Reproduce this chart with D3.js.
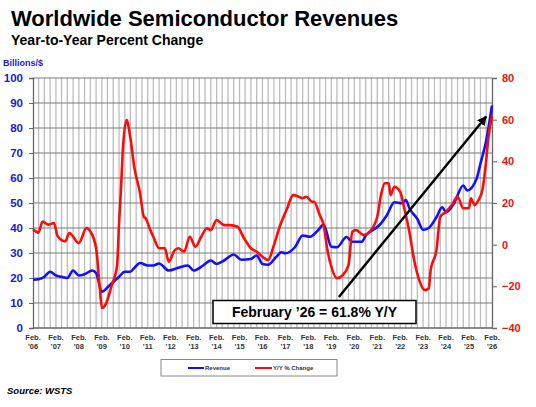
<!DOCTYPE html>
<html>
<head>
<meta charset="utf-8">
<script src="https://cdn.jsdelivr.net/npm/d3@7"></script>
<style>
  body { margin: 0; background: #fff; }
  text { font-family: "Liberation Sans", Arial, Helvetica, sans-serif; font-weight: bold; }
</style>
</head>
<body>
<svg id="chart" width="536" height="407"></svg>
<script>
// revenue, billions of $ (left axis)
var revDates = ["2006-02","2006-05","2006-08","2006-11","2007-02","2007-05","2007-08","2007-11",
  "2008-02","2008-05","2008-09","2008-11","2009-02","2009-06","2009-11","2010-02","2010-05","2010-07",
  "2010-10","2011-02","2011-05","2011-08","2012-01","2012-06","2012-11","2013-02","2013-07","2013-11",
  "2014-02","2014-06","2014-11","2015-03","2015-08","2015-11","2016-02","2016-05","2016-09","2016-12",
  "2017-02","2017-07","2017-11","2018-03","2018-07","2018-10","2019-02","2019-05","2019-10","2020-01",
  "2020-06","2020-08","2020-12","2021-03","2021-07","2021-11","2022-03","2022-05","2022-07","2022-11",
  "2023-02","2023-05","2023-09","2023-12","2024-02","2024-06","2024-11","2025-01","2025-06","2025-08",
  "2025-11","2026-02"];
var revValues = [19.3,19.5,20.5,22.5,21,20.5,20,23,
  21,21.5,23,22,14.5,17,20.5,22.5,22.5,24,
  26,25,25,25.8,23,24.1,25,23,25,27,
  25.6,27,29.4,27.3,27.6,29,25.6,25.3,28.3,30.3,
  29.9,32.3,37,36.5,39,41.4,32.5,32.3,36.4,34.5,
  34.5,37,39.3,41,45,50.3,49.9,51.2,47.7,43.6,
  39.3,40,44.3,48.3,46.3,49.6,57,55,59.7,65.7,
  75,89];

// year-to-year % change (right axis)
var yoyDates = ["2006-02","2006-05","2006-07","2006-10","2007-01","2007-03","2007-07","2007-09",
  "2008-02","2008-06","2008-08","2008-11","2009-01","2009-02","2009-04","2009-07","2009-10","2009-11",
  "2009-12","2010-01","2010-03","2010-05","2010-07","2010-10","2010-12","2011-01","2011-03","2011-05",
  "2011-08","2011-11","2012-01","2012-02","2012-04","2012-06","2012-09","2012-12","2013-03","2013-06",
  "2013-09","2013-11","2014-02","2014-06","2014-09","2015-01","2015-04","2015-08","2015-11","2016-02",
  "2016-05","2016-08","2016-11","2017-03","2017-06","2017-09","2017-11","2018-01","2018-04","2018-05",
  "2018-08","2018-10","2018-12","2019-02","2019-05","2019-08","2019-11","2020-01","2020-03","2020-07",
  "2020-10","2021-02","2021-04","2021-06","2021-08","2021-09","2021-11","2022-02","2022-04","2022-07",
  "2022-09","2022-12","2023-03","2023-05","2023-06","2023-09","2023-11","2024-02","2024-05","2024-08",
  "2024-11","2025-02","2025-03","2025-05","2025-07","2025-09","2025-11","2025-12","2026-02"];
var yoyValues = [7.4,5.8,11.1,9.6,10.4,4.0,1.6,5.6,
  0.8,8,6.4,-1.6,-21.6,-30.4,-28.8,-20.2,-10,10,
  26,45.4,59.8,51.2,37.4,24.8,13.4,12.6,8,3.8,
  -1.7,-1.7,-8.2,-6.9,-2.8,-1.7,-3.4,3.8,-1,3.8,
  7.9,7,11.8,9.4,9.4,8.6,3.8,-1.7,-3.4,-5.8,
  -7.4,-0.2,8.6,17.5,23.8,23,22.3,23,20.6,20.6,
  14.2,9.4,-2.6,-10.6,-16.1,-14.6,-9.8,6.2,7,4.6,
  6.2,13.4,23.8,29.5,29.5,23.8,27.8,25.4,18.2,5.5,
  -5.8,-17,-21.8,-20.9,-12.2,-2.6,13.4,15.8,19,23,
  17.5,17.5,22.3,19,21.4,26.2,40.6,50.2,61.8];

var leftTicks = [0,10,20,30,40,50,60,70,80,90,100];
var rightTicks = [-40,-20,0,20,40,60,80];
var yearLabels = ["'06","'07","'08","'09","'10","'11","'12","'13","'14","'15","'16",
  "'17","'18","'19","'20","'21","'22","'23","'24","'25","'26"];

var parse = d3.timeParse("%Y-%m");
var rev = revDates.map(function (d, i) { return { date: parse(d), value: revValues[i] }; });
var yoy = yoyDates.map(function (d, i) { return { date: parse(d), value: yoyValues[i] }; });

var svg = d3.select("#chart");
var plot = { left: 33, right: 492, top: 78, bottom: 328 };

var x = d3.scaleTime()
  .domain([parse("2006-02"), parse("2026-02")])
  .range([plot.left, plot.right]);
var yL = d3.scaleLinear().domain([0, 100]).range([plot.bottom, plot.top]);
var yR = d3.scaleLinear().domain([-40, 80]).range([plot.bottom, plot.top]);

// titles
svg.append("text").attr("x", 11).attr("y", 26).attr("font-size", 22).attr("fill", "#000")
  .text("Worldwide Semiconductor Revenues");
svg.append("text").attr("x", 11).attr("y", 45).attr("font-size", 14).attr("fill", "#000")
  .text("Year-to-Year Percent Change");
svg.append("text").attr("x", 3).attr("y", 65.5).attr("font-size", 9).attr("fill", "#1a1ad0")
  .text("Billions/$");

// vertical quarter grid
var quarters = d3.timeMonth.range(parse("2006-05"), parse("2026-02"), 3);
svg.append("g").selectAll("line").data(quarters).join("line")
  .attr("x1", function (d) { return x(d); }).attr("x2", function (d) { return x(d); })
  .attr("y1", plot.top).attr("y2", plot.bottom)
  .attr("stroke", "#bdbdbd").attr("stroke-width", 1.3);

// horizontal grid
svg.append("g").selectAll("line").data(leftTicks.slice(1)).join("line")
  .attr("x1", plot.left).attr("x2", plot.right)
  .attr("y1", function (d) { return yL(d); }).attr("y2", function (d) { return yL(d); })
  .attr("stroke", "#7a7a7a").attr("stroke-width", 1.2);

// left axis
var leftAxis = svg.append("g").attr("transform", "translate(" + plot.left + ",0)")
  .call(d3.axisLeft(yL).tickValues(leftTicks).tickSize(4).tickPadding(6));
leftAxis.select(".domain").attr("stroke", "#666").attr("stroke-width", 1.3);
leftAxis.selectAll(".tick line").attr("stroke", "#666");
leftAxis.selectAll("text").attr("font-size", 11.5).attr("fill", "#1a1ad0")
  .attr("font-family", "Liberation Sans, Arial, sans-serif");

// right axis
var rightAxis = svg.append("g").attr("transform", "translate(" + plot.right + ",0)")
  .call(d3.axisRight(yR).tickValues(rightTicks).tickSize(5).tickPadding(5));
rightAxis.select(".domain").attr("stroke", "#666").attr("stroke-width", 1.3);
rightAxis.selectAll(".tick line").attr("stroke", "#666");
rightAxis.selectAll("text").attr("font-size", 11).attr("fill", "#ee1111")
  .attr("font-family", "Liberation Sans, Arial, sans-serif");

// bottom axis
svg.append("line").attr("x1", plot.left).attr("x2", plot.right)
  .attr("y1", plot.bottom).attr("y2", plot.bottom).attr("stroke", "#666").attr("stroke-width", 1.3);

var years = d3.timeYear.range(parse("2006-01"), parse("2027-01")).map(function (d) { return d3.timeMonth.offset(d, 1); });
var xl = svg.append("g").selectAll("g").data(years).join("g")
  .attr("transform", function (d) { return "translate(" + x(d) + ",0)"; });
xl.append("text").attr("y", 339.5).attr("text-anchor", "middle").attr("font-size", 7.5).attr("fill", "#333")
  .text("Feb.");
xl.append("text").attr("y", 348.5).attr("text-anchor", "middle").attr("font-size", 7.5).attr("fill", "#333")
  .text(function (d, i) { return yearLabels[i]; });

// lines
var revLine = d3.line().curve(d3.curveMonotoneX)
  .x(function (d) { return x(d.date); }).y(function (d) { return yL(d.value); });
var yoyLine = d3.line().curve(d3.curveMonotoneX)
  .x(function (d) { return x(d.date); }).y(function (d) { return yR(d.value); });

svg.append("path").datum(rev).attr("d", revLine)
  .attr("fill", "none").attr("stroke", "#1010ff").attr("stroke-width", 2.6).attr("stroke-linejoin", "round");
svg.append("path").datum(yoy).attr("d", yoyLine)
  .attr("fill", "none").attr("stroke", "#ff0a0a").attr("stroke-width", 2.6).attr("stroke-linejoin", "round");

// annotation box
svg.append("rect").attr("x", 213).attr("y", 300.5).attr("width", 203).attr("height", 23)
  .attr("fill", "#fff").attr("stroke", "#000").attr("stroke-width", 1.5);
svg.append("text").attr("x", 314.5).attr("y", 317).attr("text-anchor", "middle").attr("font-size", 14)
  .attr("fill", "#000").text("February \u201926 = 61.8% Y/Y");

// arrow
svg.append("defs").append("marker").attr("id", "arrowHead")
  .attr("viewBox", "0 0 10 10").attr("refX", 9).attr("refY", 5)
  .attr("markerWidth", 4).attr("markerHeight", 4).attr("orient", "auto")
  .append("path").attr("d", "M0,0L10,5L0,10z").attr("fill", "#000");
svg.append("line")
  .attr("x1", x(parse("2019-06"))).attr("y1", yL(12.4))
  .attr("x2", x(parse("2025-11"))).attr("y2", yR(61.5))
  .attr("stroke", "#000").attr("stroke-width", 2.4).attr("marker-end", "url(#arrowHead)");

// legend
svg.append("rect").attr("x", 161).attr("y", 359.5).attr("width", 176).attr("height", 16.5)
  .attr("fill", "#fff").attr("stroke", "#888").attr("stroke-width", 1);
svg.append("line").attr("x1", 188).attr("x2", 204).attr("y1", 368).attr("y2", 368)
  .attr("stroke", "#1010ff").attr("stroke-width", 2);
svg.append("text").attr("x", 205).attr("y", 370).attr("font-size", 6).attr("fill", "#333").text("Revenue");
svg.append("line").attr("x1", 255).attr("x2", 272).attr("y1", 368).attr("y2", 368)
  .attr("stroke", "#ff0a0a").attr("stroke-width", 2);
svg.append("text").attr("x", 273).attr("y", 370).attr("font-size", 6).attr("fill", "#333").text("Y/Y % Change");

// source
svg.append("text").attr("x", 7).attr("y", 394).attr("font-size", 9.5).attr("font-style", "italic")
  .attr("fill", "#000").text("Source: WSTS");
</script>
</body>
</html>
